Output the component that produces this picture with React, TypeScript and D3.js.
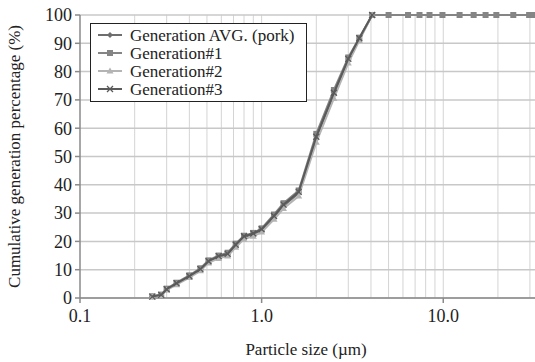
import * as d3 from "d3"

// particle size (µm) and cumulative percentage for each generation series
const avgX = [0.25, 0.28, 0.3, 0.34, 0.4, 0.46, 0.51, 0.58, 0.65, 0.72, 0.8, 0.9, 1.0, 1.17, 1.32, 1.6, 2.0, 2.5, 3.0, 3.45, 4.06]
const avgY = [0.5, 1.0, 3.0, 5.0, 7.5, 10, 12.8, 14.5, 15.3, 18.5, 21.5, 22.5, 24, 28.5, 32.5, 37, 56.5, 72, 84, 91.5, 100]

const gen1X = [0.25, 0.28, 0.3, 0.34, 0.4, 0.46, 0.51, 0.58, 0.65, 0.72, 0.8, 0.9, 1.0, 1.17, 1.32, 1.6, 2.0, 2.5, 3.0, 3.45, 4.06, 5.0, 6.4, 7.4, 8.4, 9.9, 12.3, 14.7, 17.1, 19.6, 24.3, 29.7, 31.5]
const gen1Y = [0.6, 1.2, 3.3, 5.4, 8.0, 10.5, 13.3, 15.0, 16.0, 19.2, 22.0, 23.0, 24.6, 29.5, 33.5, 38, 58, 73.5, 85, 92, 100, 100, 100, 100, 100, 100, 100, 100, 100, 100, 100, 100, 100]

const gen2X = [0.25, 0.28, 0.3, 0.34, 0.4, 0.46, 0.51, 0.58, 0.65, 0.72, 0.8, 0.9, 1.0, 1.17, 1.32, 1.6, 2.0, 2.5, 3.0, 3.45, 4.06]
const gen2Y = [0.4, 0.9, 2.8, 4.7, 7.2, 9.6, 12.4, 14.0, 14.8, 17.9, 20.8, 21.8, 23.3, 27.8, 31.6, 36, 55, 70.5, 83, 91, 100]

const gen3X = [0.25, 0.28, 0.3, 0.34, 0.4, 0.46, 0.51, 0.58, 0.65, 0.72, 0.8, 0.9, 1.0, 1.17, 1.32, 1.6, 2.0, 2.5, 3.0, 3.45, 4.06]
const gen3Y = [0.5, 1.1, 3.1, 5.2, 7.7, 10.2, 13.0, 14.8, 15.6, 18.8, 21.8, 22.8, 24.3, 29.0, 33.0, 37.5, 57, 72.5, 84.5, 91.8, 100]

const seriesNames = ["Generation AVG. (pork)", "Generation#1", "Generation#2", "Generation#3"]
const yTicks = [0, 10, 20, 30, 40, 50, 60, 70, 80, 90, 100]
const xTicks = [0.1, 1, 10]
const xGrid = [0.2, 0.3, 0.4, 0.5, 0.6, 0.7, 0.8, 0.9, 1, 2, 3, 4, 5, 6, 7, 8, 9, 10, 20, 30]

const W = 535
const H = 362
const FONT = "Liberation Serif, DejaVu Serif, Times New Roman, serif"

const COLORS = ["#6e6e6e", "#858585", "#b4b4b4", "#5a5a5a"]
const SHAPES = ["diamond", "square", "triangle", "cross"]

function Marker({ shape, x, y, color }: { shape: string; x: number; y: number; color: string }) {
  if (shape === "diamond")
    return <path d={`M${x},${y - 3}L${x + 3},${y}L${x},${y + 3}L${x - 3},${y}Z`} fill={color} />
  if (shape === "square")
    return <rect x={x - 3} y={y - 3} width={6} height={6} fill={color} />
  if (shape === "triangle")
    return <path d={`M${x},${y - 3.5}L${x + 3.5},${y + 2.5}L${x - 3.5},${y + 2.5}Z`} fill={color} />
  return (
    <path
      d={`M${x - 3},${y - 3}L${x + 3},${y + 3}M${x - 3},${y + 3}L${x + 3},${y - 3}`}
      stroke={color}
      strokeWidth={1.3}
    />
  )
}

export default function App() {
  const x = d3.scaleLog().domain([0.1, 32]).range([80, 535])
  const y = d3.scaleLinear().domain([0, 100]).range([298, 15])

  const series = [
    { xs: avgX, ys: avgY },
    { xs: gen1X, ys: gen1Y },
    { xs: gen2X, ys: gen2Y },
    { xs: gen3X, ys: gen3Y },
  ]

  const line = d3
    .line<[number, number]>()
    .x((d) => x(d[0]))
    .y((d) => y(d[1]))

  const [x0, x1] = x.range()
  const textStyle = { fontFamily: FONT }

  return (
    <svg width={W} height={H} style={{ position: "absolute", left: 0, top: 0, background: "#fff" }}>
      {/* vertical log grid */}
      {xGrid.map((v) => (
        <line key={"vx" + v} x1={x(v)} x2={x(v)} y1={y(100)} y2={y(0)} stroke="#d4d4d4" strokeWidth={1} />
      ))}
      {/* horizontal grid */}
      {yTicks.map((v) => (
        <line key={"hy" + v} x1={x0} x2={x1} y1={y(v)} y2={y(v)} stroke="#c8c8c8" strokeWidth={1.5} />
      ))}

      {/* axes */}
      <line x1={x0} x2={x0} y1={y(100)} y2={y(0)} stroke="#8a8a8a" strokeWidth={1.5} />
      <line x1={x0} x2={x1} y1={y(0)} y2={y(0)} stroke="#8a8a8a" strokeWidth={1.5} />
      {yTicks.map((v) => (
        <g key={"yt" + v}>
          <line x1={x0 - 5} x2={x0} y1={y(v)} y2={y(v)} stroke="#8a8a8a" strokeWidth={1.5} />
          <text x={x0 - 8} y={y(v)} dy="0.35em" textAnchor="end" fontSize={18} fill="#222" style={textStyle}>
            {v}
          </text>
        </g>
      ))}
      {xTicks.map((v) => (
        <g key={"xt" + v}>
          <line x1={x(v)} x2={x(v)} y1={y(0)} y2={y(0) + 5} stroke="#8a8a8a" strokeWidth={1.5} />
          <text x={x(v)} y={322} textAnchor="middle" fontSize={18} fill="#222" style={textStyle}>
            {v.toFixed(1)}
          </text>
        </g>
      ))}

      {/* series */}
      {series.map((s, i) => {
        const pts = s.xs.map((v, j) => [v, s.ys[j]] as [number, number])
        return (
          <g key={"s" + i}>
            <path d={line(pts) ?? ""} fill="none" stroke={COLORS[i]} strokeWidth={2} />
            {pts.map((p, j) => (
              <Marker key={j} shape={SHAPES[i]} x={x(p[0])} y={y(p[1])} color={COLORS[i]} />
            ))}
          </g>
        )
      })}

      {/* legend */}
      <rect x={90.5} y={23.5} width={216} height={78} fill="#fff" stroke="#222" strokeWidth={1} />
      {seriesNames.map((name, i) => {
        const ly = 35 + i * 18
        return (
          <g key={"lg" + i}>
            <line x1={98} x2={122} y1={ly} y2={ly} stroke={COLORS[i]} strokeWidth={2} />
            <Marker shape={SHAPES[i]} x={110} y={ly} color={COLORS[i]} />
            <text x={130} y={ly} dy="0.35em" fontSize={17} fill="#222" style={textStyle}>
              {name}
            </text>
          </g>
        )
      })}

      {/* axis titles */}
      <text
        transform={`translate(20,${(y(0) + y(100)) / 2}) rotate(-90)`}
        textAnchor="middle"
        fontSize={17}
        fill="#222"
        style={textStyle}
      >
        Cumulative generation percentage (%)
      </text>
      <text x={306} y={355} textAnchor="middle" fontSize={17} fill="#222" style={textStyle}>
        Particle size (µm)
      </text>
    </svg>
  )
}
